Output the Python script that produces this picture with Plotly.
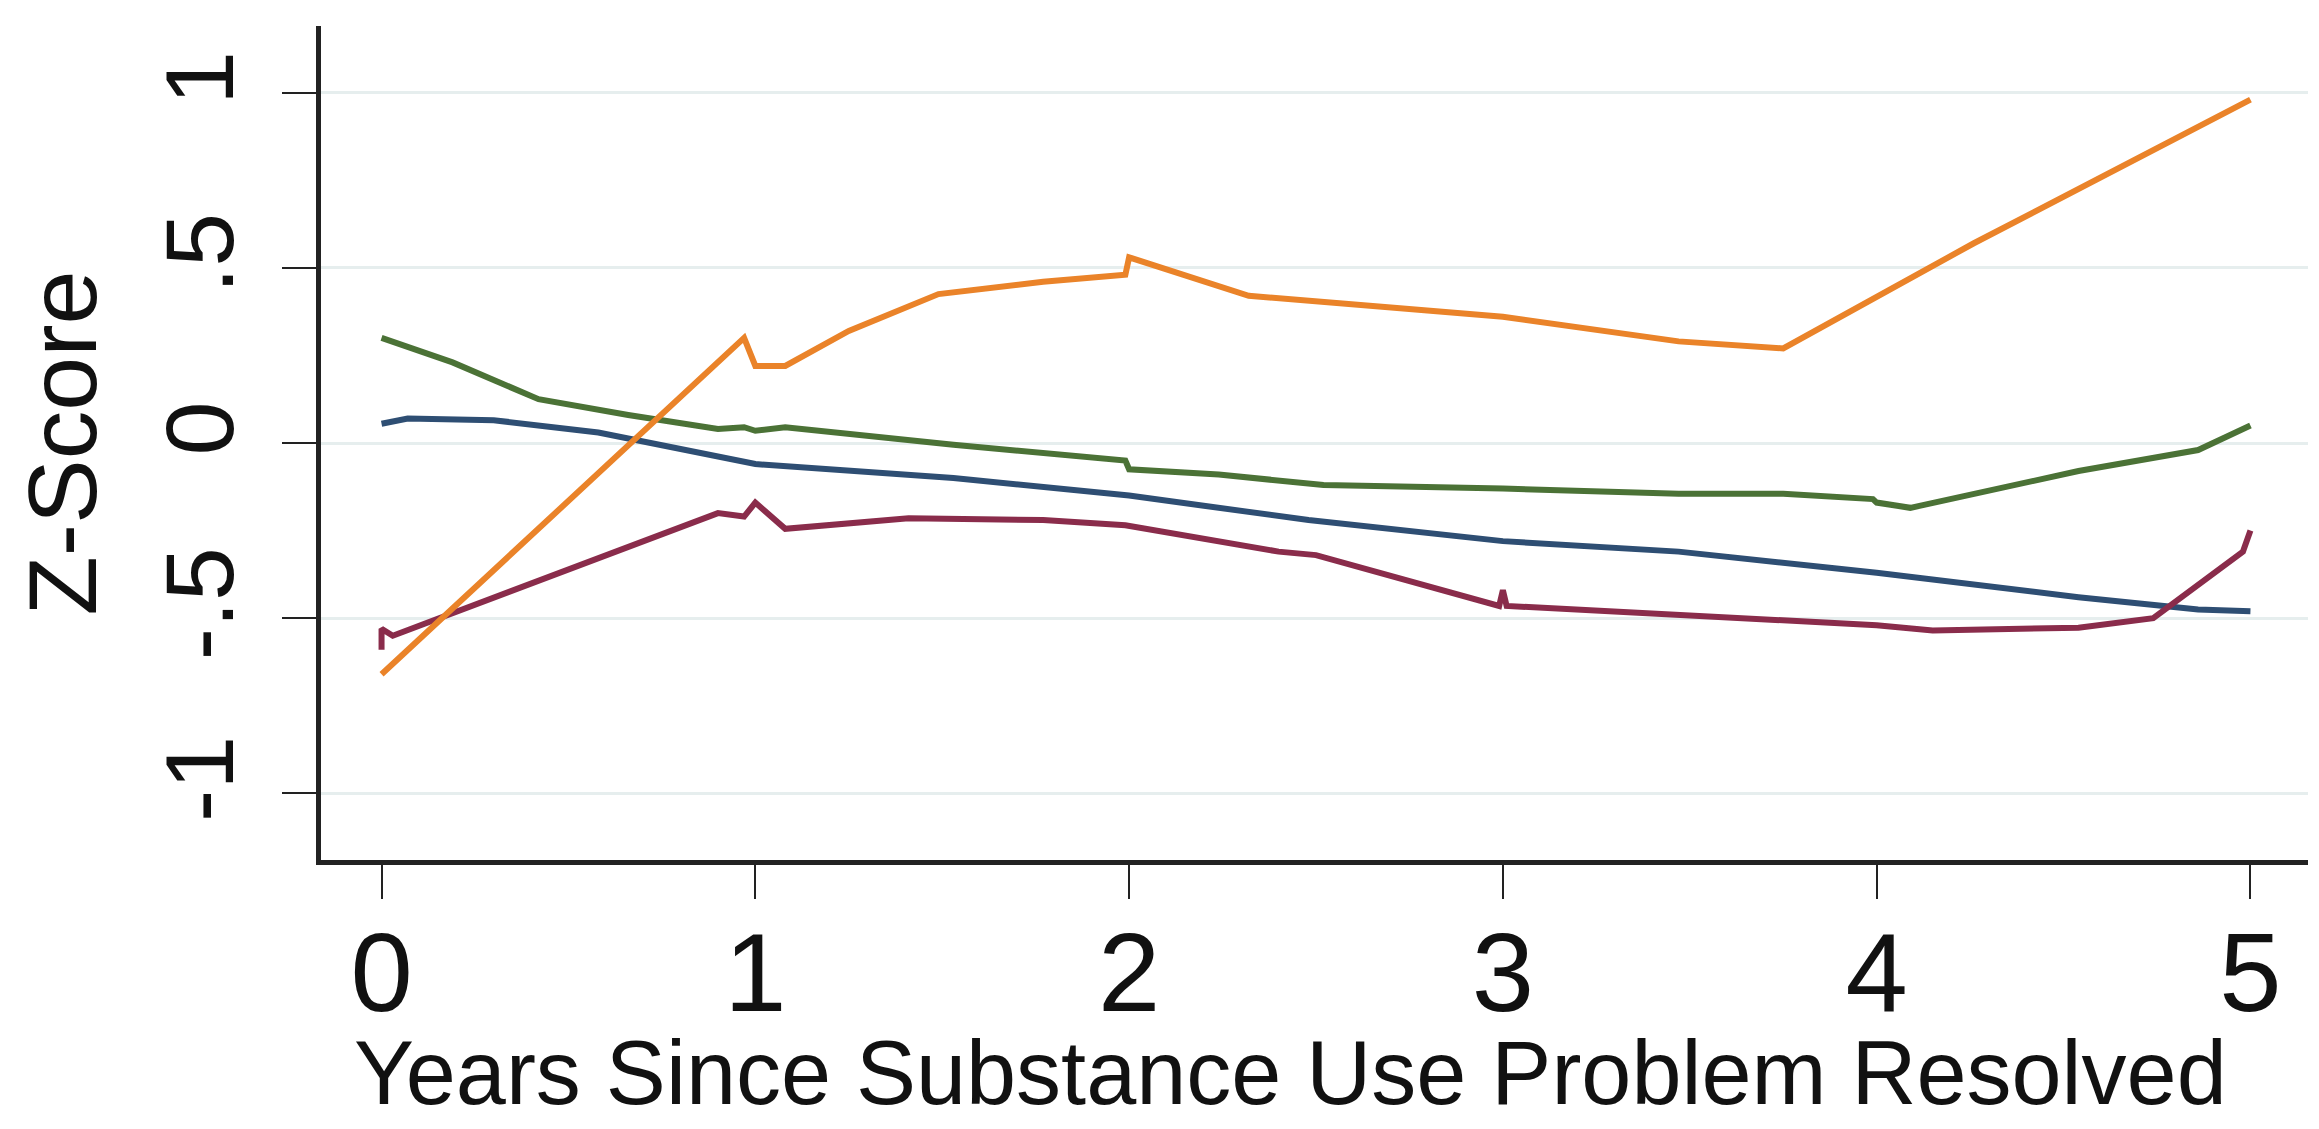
import plotly.graph_objects as go

# Orange series
orange_x = [0.0, 0.97, 1.0, 1.08, 1.25, 1.49, 1.77, 1.99, 2.0, 2.32, 3.0, 3.47, 3.75, 4.26, 5.0]
orange_y = [-0.66, 0.30, 0.22, 0.22, 0.32, 0.425, 0.46, 0.48, 0.53, 0.42, 0.36, 0.29, 0.27, 0.57, 0.98]

# Green series
green_x = [0.0, 0.19, 0.42, 0.66, 0.9, 0.97, 1.0, 1.08, 1.53, 1.99, 2.0, 2.24, 2.52, 3.0, 3.47, 3.75, 3.99, 4.0, 4.09, 4.54, 4.86, 5.0]
green_y = [0.30, 0.23, 0.125, 0.08, 0.04, 0.045, 0.035, 0.045, -0.005, -0.05, -0.075, -0.09, -0.12, -0.13, -0.145, -0.145, -0.16, -0.17, -0.185, -0.08, -0.02, 0.05]

# Blue series
blue_x = [0.0, 0.07, 0.3, 0.58, 1.0, 1.53, 2.0, 2.48, 3.0, 3.47, 4.0, 4.54, 4.86, 5.0]
blue_y = [0.055, 0.07, 0.065, 0.03, -0.06, -0.10, -0.15, -0.22, -0.28, -0.31, -0.37, -0.44, -0.475, -0.48]

# Maroon series
maroon_x = [0.0, 0.0, 0.03, 0.5, 0.9, 0.97, 1.0, 1.08, 1.41, 1.77, 1.99, 2.4, 2.5, 2.99, 3.0, 3.01, 3.47, 4.0, 4.15, 4.54, 4.74, 4.98, 5.0]
maroon_y = [-0.59, -0.53, -0.55, -0.36, -0.20, -0.21, -0.17, -0.245, -0.215, -0.22, -0.235, -0.31, -0.32, -0.465, -0.42, -0.465, -0.49, -0.52, -0.535, -0.527, -0.50, -0.31, -0.25]

y_ticks = [-1, -0.5, 0, 0.5, 1]
y_tick_labels = ["-1", "-.5", "0", ".5", "1"]
x_ticks = [0, 1, 2, 3, 4, 5]
x_tick_labels = ["0", "1", "2", "3", "4", "5"]

FONT = "Liberation Sans, Arial, sans-serif"

fig = go.Figure()
series = [
    (blue_x, blue_y, "#2e4e73"),
    (green_x, green_y, "#4b7236"),
    (maroon_x, maroon_y, "#8a2c4b"),
    (orange_x, orange_y, "#ea8329"),
]
for xs, ys, col in series:
    fig.add_trace(go.Scatter(x=xs, y=ys, mode="lines",
                             line=dict(color=col, width=6), showlegend=False))

fig.update_layout(
    width=2319, height=1129,
    paper_bgcolor="white", plot_bgcolor="white",
    margin=dict(l=313, r=19, t=18, b=277),
    font=dict(family=FONT, color="#111111"),
)
fig.update_xaxes(
    range=[-0.162, 5.154], tickvals=x_ticks, ticktext=x_tick_labels,
    showgrid=False, zeroline=False,
    showline=True, linecolor="#222222", linewidth=5,
    ticks="outside", ticklen=34, tickwidth=2, tickcolor="#222222",
    tickfont=dict(size=112, family=FONT), ticklabelstandoff=-22,
)
fig.update_yaxes(
    range=[-1.19, 1.19], tickvals=y_ticks, ticktext=y_tick_labels,
    showgrid=True, gridcolor="#e6eeee", gridwidth=3, zeroline=False,
    showline=True, linecolor="#222222", linewidth=5,
    ticks="outside", ticklen=34, tickwidth=2, tickcolor="#222222",
    tickangle=-90, tickfont=dict(size=97, family=FONT), ticklabelstandoff=10,
    title=dict(text="Z-Score", font=dict(size=97, family=FONT), standoff=24),
)
fig.add_annotation(
    text="Years Since Substance Use Problem Resolved",
    xref="paper", yref="paper", x=0.488, y=-0.318,
    xanchor="center", yanchor="bottom", showarrow=False,
    font=dict(size=90, family=FONT, color="#111111"),
)

fig.write_html("out.html")
